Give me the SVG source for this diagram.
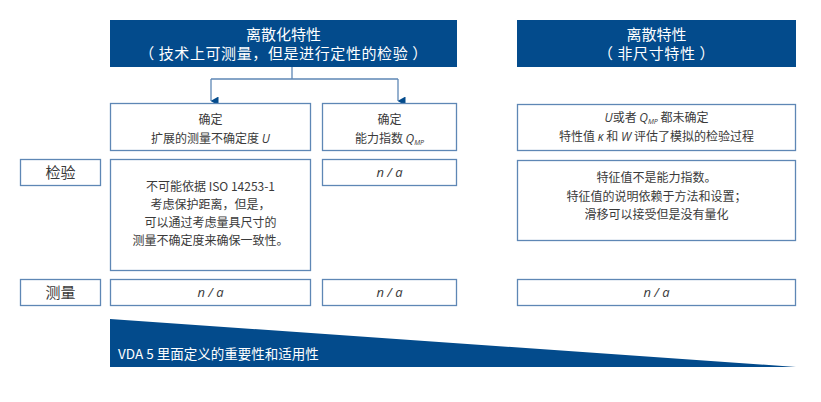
<svg xmlns="http://www.w3.org/2000/svg" width="821" height="402" viewBox="0 0 821 402">
<style>
.hdr{fill:#034b8c}
.box{fill:#fff;stroke:#5e87b5;stroke-width:1.3}
.ht{font-family:"Noto Sans CJK SC","Noto Sans",sans-serif;font-size:15px;fill:#fff;text-anchor:middle}
.t{font-family:"Noto Sans CJK SC","Noto Sans",sans-serif;font-size:12px;fill:#3a3a3a;text-anchor:middle}
.lb{font-family:"Noto Sans CJK SC","Noto Sans",sans-serif;font-size:15px;fill:#3a3a3a;text-anchor:middle}
.it{font-family:"Open Sans","DejaVu Sans",sans-serif;font-style:italic}
.na{font-family:"Open Sans","DejaVu Sans",sans-serif;font-style:italic;font-size:13px;fill:#3a3a3a;text-anchor:middle}
.con{fill:none;stroke:#5e87b5;stroke-width:1.3}
</style>
<defs>
<marker id="arr" markerWidth="9" markerHeight="8" refX="4.5" refY="7.5" orient="auto" markerUnits="userSpaceOnUse" viewBox="0 0 9 8">
<path d="M0,0 L9,0 L4.5,8 Z" fill="#034b8c"/>
</marker>
</defs>
<g id="connectors">
<path class="con" d="M292,67 V79 M211,79 H398"/>
<path class="con" d="M211,79 V101" marker-end="url(#arr)"/>
<path class="con" d="M398,79 V101" marker-end="url(#arr)"/>
</g>
<g id="hdr-discretized">
<rect class="hdr" x="110" y="20" width="347" height="47"/>
<text class="ht" x="283.5" y="40">离散化特性</text>
<text class="ht" x="283.5" y="59" letter-spacing="0.6">（ 技术上可测量，但是进行定性的检验 ）</text>
</g>
<g id="hdr-discrete">
<rect class="hdr" x="517" y="20" width="279" height="47"/>
<text class="ht" x="656.5" y="40">离散特性</text>
<text class="ht" x="656.5" y="59" letter-spacing="0.6">（ 非尺寸特性 ）</text>
</g>
<g id="box-u">
<rect class="box" x="110.5" y="103.5" width="200" height="47"/>
<text class="t" x="210.5" y="124">确定</text>
<text class="t" x="210.5" y="143">扩展的测量不确定度 <tspan class="it">U</tspan></text>
</g>
<g id="box-qmp">
<rect class="box" x="322.5" y="103.5" width="134" height="47"/>
<text class="t" x="389.5" y="124">确定</text>
<text class="t" x="389.5" y="143">能力指数 <tspan class="it">Q</tspan><tspan class="it" font-size="7" dy="2">MP</tspan></text>
</g>
<g id="box-discrete-top">
<rect class="box" x="517.5" y="104.5" width="278" height="46"/>
<text class="t" x="656.5" y="122"><tspan class="it">U</tspan>或者 <tspan class="it">Q</tspan><tspan class="it" font-size="7" dy="2">MP</tspan><tspan dy="-2"> 都未确定</tspan></text>
<text class="t" x="656.5" y="141">特性值 <tspan class="it">κ</tspan> 和 <tspan class="it">W</tspan> 评估了模拟的检验过程</text>
</g>
<g id="label-inspection">
<rect class="box" x="20.5" y="159.5" width="80" height="26"/>
<text class="lb" x="60.5" y="178">检验</text>
</g>
<g id="box-iso">
<rect class="box" x="110.5" y="159.5" width="200" height="111"/>
<text class="t" x="210.5" y="191">不可能依据 ISO 14253-1</text>
<text class="t" x="210.5" y="209">考虑保护距离，但是，</text>
<text class="t" x="210.5" y="227">可以通过考虑量具尺寸的</text>
<text class="t" x="210.5" y="245">测量不确定度来确保一致性。</text>
</g>
<g id="box-na-1">
<rect class="box" x="322.5" y="159.5" width="134" height="26"/>
<text class="na" x="389.5" y="177">n / a</text>
</g>
<g id="box-discrete-insp">
<rect class="box" x="517.5" y="160.5" width="278" height="80"/>
<text class="t" x="656.5" y="182">特征值不是能力指数。</text>
<text class="t" x="656.5" y="201">特征值的说明依赖于方法和设置；</text>
<text class="t" x="656.5" y="219">滑移可以接受但是没有量化</text>
</g>
<g id="label-measurement">
<rect class="box" x="20.5" y="279.5" width="80" height="26"/>
<text class="lb" x="60.5" y="298">测量</text>
</g>
<g id="box-na-2">
<rect class="box" x="110.5" y="279.5" width="200" height="26"/>
<text class="na" x="210.5" y="297">n / a</text>
</g>
<g id="box-na-3">
<rect class="box" x="322.5" y="279.5" width="134" height="26"/>
<text class="na" x="389.5" y="297">n / a</text>
</g>
<g id="box-na-4">
<rect class="box" x="517.5" y="279.5" width="278" height="26"/>
<text class="na" x="656.5" y="297">n / a</text>
</g>
<g id="wedge">
<polygon class="hdr" points="110,319 796,367 110,367"/>
<text x="118" y="359" font-family="'Noto Sans CJK SC','Noto Sans',sans-serif" font-size="13.5" fill="#fff">VDA 5 里面定义的重要性和适用性</text>
</g>
</svg>
